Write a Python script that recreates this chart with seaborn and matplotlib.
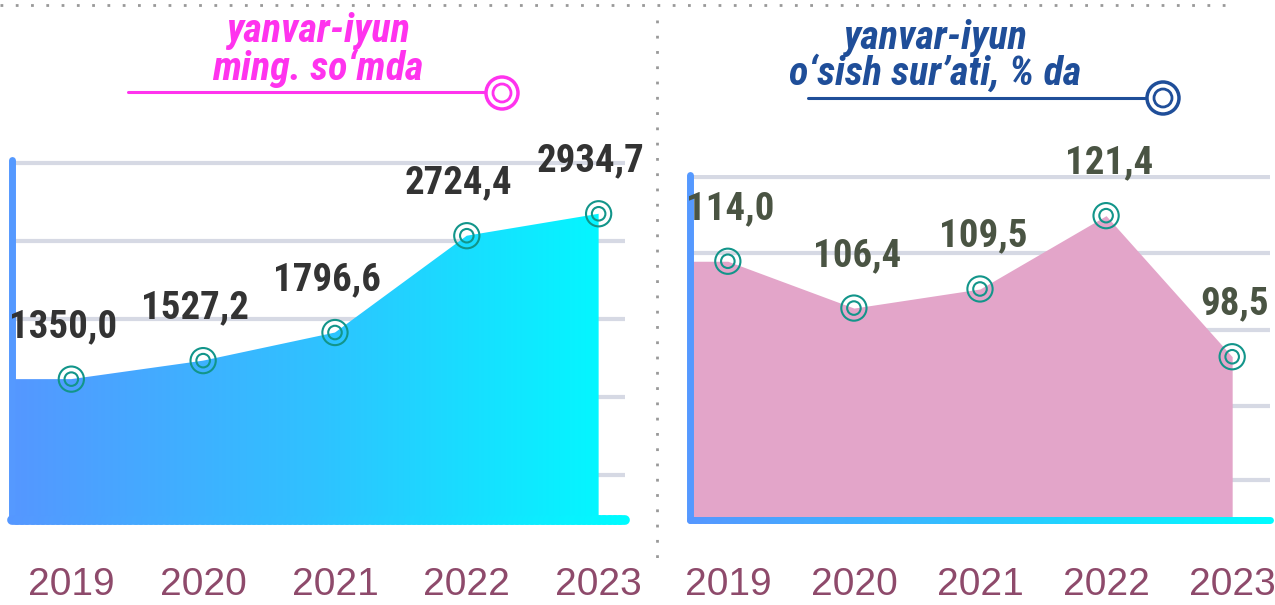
import numpy as np
import pandas as pd
import matplotlib.pyplot as plt
import seaborn as sns
from matplotlib.colors import LinearSegmentedColormap
from matplotlib.collections import LineCollection
from matplotlib.patches import Circle

# Data
years = ['2019', '2020', '2021', '2022', '2023']
amount = [1350.0, 1527.2, 1796.6, 2724.4, 2934.7]   # ming so'm
growth = [114.0, 106.4, 109.5, 121.4, 98.5]          # o'sish sur'ati, %

left_title = 'yanvar-iyun\nming. so‘mda'
right_title = 'yanvar-iyun\no‘sish sur’ati, % da'

sns.set_theme(style='white')
narrow = ['Roboto Condensed', 'Liberation Sans Narrow', 'Archivo Narrow', 'PT Sans Narrow', 'DejaVu Sans']
plt.rcParams['font.family'] = narrow

W, H = 1275, 605
fig = plt.figure(figsize=(W / 100, H / 100), dpi=100)


def pixel_axes(x0, y0, x1, y1):
    """Axes placed by a pixel box (top-left origin)."""
    return fig.add_axes([x0 / W, 1 - y1 / H, (x1 - x0) / W, (y1 - y0) / H])


# overlay for the decorations (dotted frame, titles, underlines)
bg = fig.add_axes([0, 0, 1, 1], zorder=-1)
bg.set_xlim(0, W)
bg.set_ylim(H, 0)
bg.axis('off')

ax1 = pixel_axes(12, 160, 625, 520)
ax2 = pixel_axes(690, 175, 1270, 520)

blue_cyan = LinearSegmentedColormap.from_list('bc', ['#5597ff', '#2fc2ff', '#00fbff'])
ring_color = '#12958a'


def style_axes(ax, xlim, ylim, grid):
    ax.set_facecolor('none')
    ax.set_xlim(*xlim)
    ax.set_ylim(*ylim)
    ax.set_yticks(grid)
    ax.yaxis.grid(True, color='#d6d9e4', linewidth=3)
    ax.set_axisbelow(True)
    ax.set_xticks(range(len(years)))
    ax.set_xticklabels(years, family=['Liberation Sans', 'DejaVu Sans'])
    ax.tick_params(axis='x', length=19, width=3, color='#2fb5ff', pad=15,
                   labelsize=28, labelcolor='#8e4a6b', direction='out')
    ax.tick_params(axis='y', length=0, labelleft=False)
    for side in ['top', 'right', 'bottom']:
        ax.spines[side].set_visible(False)
    ax.spines['left'].set_color('#5599ff')
    ax.spines['left'].set_linewidth(5)
    ax.spines['left'].set_capstyle('round')


def area_xy(ax, df):
    # area runs on from the axis line to the first year's value
    xs = np.r_[ax.get_xlim()[0], df['pos']]
    ys = np.r_[df['value'].iloc[0], df['value']]
    return xs, ys


def gradient_base(ax, lw):
    x0, x1 = ax.get_xlim()
    yb = ax.get_ylim()[0]
    xs = np.linspace(x0, x1, 120)
    pts = np.column_stack([xs, np.full_like(xs, yb)])
    segs = np.stack([pts[:-1], pts[1:]], axis=1)
    lc = LineCollection(segs, colors=blue_cyan(np.linspace(0, 1, len(segs))),
                        linewidths=lw, clip_on=False, zorder=4, capstyle='round')
    ax.add_collection(lc)


def rings(ax, df):
    # two hollow teal rings per point
    for size in [330, 95]:
        sns.scatterplot(data=df, x='pos', y='value', ax=ax, s=size, color=ring_color,
                        linewidth=1.5, zorder=6, legend=False, clip_on=False)
        coll = ax.collections[-1]
        coll.set_facecolor('none')
        coll.set_edgecolor(ring_color)
    # seaborn puts axis labels in; this chart has none
    ax.xaxis.label.set_visible(False)
    ax.yaxis.label.set_visible(False)


def labels(ax, df, dx, color):
    for xi, v in zip(df['pos'], df['value']):
        ax.annotate(f'{v:.1f}'.replace('.', ','), (xi, v), xytext=(dx, 38),
                    textcoords='offset points', ha='center', va='center',
                    fontsize=28, fontweight='bold', color=color, zorder=8)


x = np.arange(len(years))
df1 = pd.DataFrame({'year': years, 'pos': x, 'value': amount})
df2 = pd.DataFrame({'year': years, 'pos': x, 'value': growth})

# ---- left chart: amount, gradient area
lim1 = ((-0.45, 4.2), (0, 3450))
style_axes(ax1, *lim1, [430, 1180, 1925, 2675, 3420])
xs, ys = area_xy(ax1, df1)
area = ax1.fill_between(xs, ys, 0, facecolor='none', edgecolor='none')
grad = np.linspace(0, 1, 256).reshape(1, -1)
im = ax1.imshow(grad, cmap=blue_cyan, extent=[*lim1[0], *lim1[1]], aspect='auto', zorder=2)
im.set_clip_path(area.get_paths()[0], transform=ax1.transData)
ax1.set_xlim(*lim1[0])
ax1.set_ylim(*lim1[1])
gradient_base(ax1, 7)
rings(ax1, df1)
labels(ax1, df1, -6, '#333333')

# ---- right chart: growth, pink area
style_axes(ax2, (-0.3, 4.3), (72, 128), [78.5, 90.5, 102.8, 115.3, 127.7])
xs, ys = area_xy(ax2, df2)
ax2.fill_between(xs, ys, 72, color='#e3a5c9', linewidth=0, zorder=2)
gradient_base(ax2, 5)
rings(ax2, df2)
labels(ax2, df2, 2, '#4a5443')

# ---- titles and decorations
bg.text(318, 50, left_title, ha='center', va='center', fontsize=29, fontweight='bold',
        style='italic', color='#ff33ee', linespacing=0.95)
bg.plot([128, 485], [92, 92], color='#ff33ee', lw=2.2)
bg.add_patch(Circle((502, 93), 16, fill=False, ec='#ff33ee', lw=2.5))
bg.add_patch(Circle((502, 93), 9, fill=False, ec='#ff33ee', lw=2))

bg.text(935, 56, right_title, ha='center', va='center', fontsize=29, fontweight='bold',
        style='italic', color='#1f4e99', linespacing=0.9)
bg.plot([808, 1145], [98, 98], color='#1f4e99', lw=2.2)
bg.add_patch(Circle((1163, 98), 16, fill=False, ec='#1f4e99', lw=2.5))
bg.add_patch(Circle((1163, 98), 9, fill=False, ec='#1f4e99', lw=2))

bg.plot([0, 1225], [5, 5], color='#999999', lw=2, linestyle=(0, (1, 4.5)))
bg.plot([657, 657], [20, 565], color='#999999', lw=2, linestyle=(0, (1, 4.5)))

fig.savefig('out.png', dpi=100)
